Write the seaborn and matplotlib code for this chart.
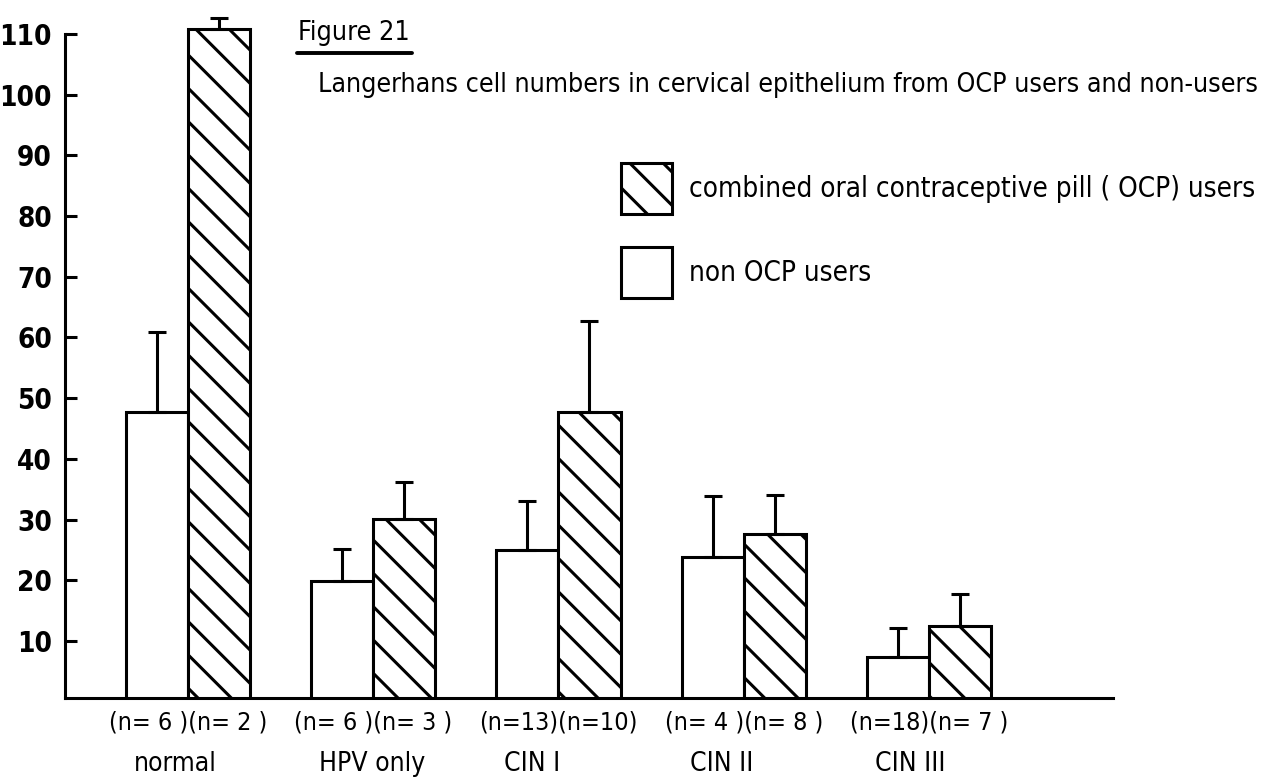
import numpy as np
import pandas as pd
import seaborn as sns
import matplotlib.pyplot as plt
from matplotlib.patches import Patch
from matplotlib.lines import Line2D

groups = ['normal', 'HPV only', 'CIN I', 'CIN II', 'CIN III']
n_labels = ['(n= 6 )(n= 2 )', '(n= 6 )(n= 3 )', '(n=13)(n=10)', '(n= 4 )(n= 8 )', '(n=18)(n= 7 )']
non_ocp_mean = [47.7, 19.8, 24.9, 23.8, 7.4]
non_ocp_err = [13.2, 5.4, 8.2, 10.0, 4.8]
ocp_mean = [110.8, 30.1, 47.7, 27.6, 12.5]
ocp_err = [1.9, 6.1, 15.0, 6.4, 5.3]
series = ['non OCP users', 'combined oral contraceptive pill ( OCP) users']
yticks = [10, 20, 30, 40, 50, 60, 70, 80, 90, 100, 110]

df = pd.DataFrame({
    'group': groups * 2,
    'count': non_ocp_mean + ocp_mean,
    'err': non_ocp_err + ocp_err,
    'series': [series[0]] * len(groups) + [series[1]] * len(groups),
})

sns.set_style('ticks', {'axes.edgecolor': 'black'})
plt.rcParams['font.family'] = ['Liberation Sans Narrow', 'DejaVu Sans']
plt.rcParams['font.stretch'] = 'condensed'
plt.rcParams['hatch.linewidth'] = 1.1
plt.rcParams['hatch.color'] = 'black'
plt.rcParams['text.color'] = 'black'
plt.rcParams['ytick.color'] = 'black'
plt.rcParams['xtick.color'] = 'black'

fig = plt.figure(figsize=(6.355, 3.895), dpi=200)
ax = fig.add_axes([0.0511, 0.104, 0.8245, 0.8836])

sns.barplot(data=df, x='group', y='count', hue='series', hue_order=series,
            palette=['white', 'white'], width=0.67, errorbar=None,
            edgecolor='black', linewidth=1.1, legend=False, ax=ax)

for bar in ax.containers[1]:
    bar.set_hatch('\\\\')

# error bars, upper side only
for cont, err in zip(ax.containers, [non_ocp_err, ocp_err]):
    xs = [b.get_x() + b.get_width() / 2 for b in cont]
    ys = [b.get_height() for b in cont]
    ax.errorbar(xs, ys, yerr=[np.zeros(len(err)), err], fmt='none',
                ecolor='black', elinewidth=1.1, capsize=3.3, capthick=1.1, zorder=1)

ax.set_xlim(-0.664, 4.993)
ax.set_ylim(0.6, 114)
ax.set_yticks(yticks)
ax.set_yticklabels([str(t) for t in yticks], fontsize=10, fontweight='bold')
ax.set_xticks(range(len(groups)))
ax.set_xticklabels(n_labels, fontsize=9)
ax.tick_params(axis='y', direction='in', length=4.3, width=1.1, pad=4.7, color='black')
ax.tick_params(axis='x', length=0, pad=4.6)
ax.set_xlabel('')
ax.set_ylabel('')
sns.despine(ax=ax)
ax.spines['left'].set_bounds(0.6, 110)
for side in ['left', 'bottom']:
    ax.spines[side].set_linewidth(1.1)
    ax.spines[side].set_color('black')

# group names sit under the left bar of each pair
for bar, g in zip(ax.containers[0], groups):
    ax.annotate(g, xy=(bar.get_x(), 0.6), xytext=(2.9, -26.4), textcoords='offset points',
                ha='left', va='baseline', fontsize=9.5, annotation_clip=False)

fig.text(298 / 1271, 1 - 40 / 779, 'Figure 21', fontsize=9.7, va='baseline', ha='left')
fig.add_artist(Line2D([297 / 1271, 412 / 1271], [1 - 53 / 779] * 2,
                      color='black', linewidth=1.4, transform=fig.transFigure))
fig.text(318 / 1271, 1 - 92 / 779,
         'Langerhans cell numbers in cervical epithelium from OCP users and non-users',
         fontsize=9.6, va='baseline', ha='left')

handles = [Patch(facecolor='white', edgecolor='black', hatch='\\\\', linewidth=1.1),
           Patch(facecolor='white', edgecolor='black', linewidth=1.1)]
ax.legend(handles, [series[1], series[0]], loc='upper left',
          bbox_to_anchor=(621 / 1271, 1 - 163 / 779), bbox_transform=fig.transFigure,
          frameon=False, fontsize=10, handlelength=1.84, handleheight=2.45,
          handletextpad=0.6, labelspacing=1.2, borderpad=0, borderaxespad=0)

fig.savefig('out.png', dpi=200)
